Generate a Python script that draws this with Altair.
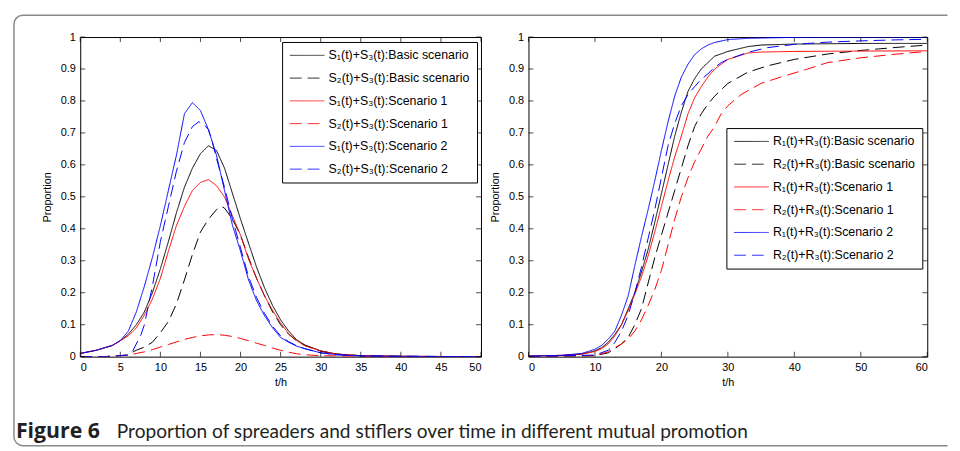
import altair as alt
import pandas as pd

# ---------------- labels / styles ----------------
L_LABELS = ["S₁(t)+S₃(t):Basic scenario", "S₂(t)+S₃(t):Basic scenario",
            "S₁(t)+S₃(t):Scenario 1", "S₂(t)+S₃(t):Scenario 1",
            "S₁(t)+S₃(t):Scenario 2", "S₂(t)+S₃(t):Scenario 2"]
R_LABELS = ["R₁(t)+R₃(t):Basic scenario", "R₂(t)+R₃(t):Basic scenario",
            "R₁(t)+R₃(t):Scenario 1", "R₂(t)+R₃(t):Scenario 1",
            "R₁(t)+R₃(t):Scenario 2", "R₂(t)+R₃(t):Scenario 2"]
COLORS = ["#000000", "#000000", "#ff0000", "#ff0000", "#0000ff", "#0000ff"]
DASHES = [[1, 0], [12, 6], [1, 0], [12, 6], [1, 0], [12, 6]]

L_XTICKS = [0, 5, 10, 15, 20, 25, 30, 35, 40, 45, 50]
R_XTICKS = [0, 10, 20, 30, 40, 50, 60]
YTICKS = [0, 0.1, 0.2, 0.3, 0.4, 0.5, 0.6, 0.7, 0.8, 0.9, 1]

CAPTION_BOLD = ["Figure 6"]
CAPTION_TEXT = ["Proportion of spreaders and stiflers over time in different mutual promotion"]

# ---------------- left panel data (spreaders) ----------------
ls_t = [0, 2, 4, 5, 6, 7, 8, 9, 10, 11, 12, 13, 14, 15, 16, 17, 18, 19, 20, 21, 22, 23, 24, 25, 26, 27, 28, 30, 32, 35, 40, 50]
l_black_solid = [0.01, 0.02, 0.035, 0.05, 0.07, 0.10, 0.14, 0.20, 0.275, 0.36, 0.45, 0.53, 0.59, 0.635, 0.66, 0.645, 0.59, 0.51, 0.43, 0.355, 0.28, 0.215, 0.16, 0.115, 0.08, 0.053, 0.037, 0.018, 0.008, 0.003, 0.001, 0.0]
l_red_solid = [0.01, 0.02, 0.035, 0.05, 0.065, 0.09, 0.13, 0.18, 0.245, 0.33, 0.41, 0.47, 0.52, 0.545, 0.554, 0.535, 0.50, 0.44, 0.38, 0.305, 0.245, 0.19, 0.145, 0.105, 0.072, 0.05, 0.035, 0.018, 0.008, 0.003, 0.001, 0.0]
l_blue_solid = [0.01, 0.02, 0.035, 0.05, 0.08, 0.14, 0.22, 0.31, 0.41, 0.52, 0.63, 0.76, 0.795, 0.77, 0.71, 0.63, 0.52, 0.41, 0.33, 0.24, 0.175, 0.128, 0.09, 0.06, 0.045, 0.033, 0.025, 0.012, 0.006, 0.002, 0.001, 0.0]

lbd_t = [0, 3, 6, 6.6, 7, 8, 9, 10, 11, 12, 13, 14, 15, 16, 17, 17.6, 18, 19, 20, 21, 22, 23, 24, 25, 26, 27, 28, 30, 32, 35, 40, 50]
l_black_dash = [0, 0, 0.005, 0.015, 0.02, 0.03, 0.045, 0.075, 0.11, 0.165, 0.24, 0.32, 0.39, 0.43, 0.46, 0.47, 0.465, 0.43, 0.38, 0.31, 0.245, 0.19, 0.14, 0.10, 0.07, 0.05, 0.035, 0.017, 0.008, 0.003, 0.001, 0.0]

lrd_t = [0, 3, 6, 7, 8, 9, 10, 11, 12, 13, 14, 15, 16, 17, 18, 19, 20, 21, 22, 23, 24, 25, 26, 27, 28, 30, 35, 40, 50]
l_red_dash = [0, 0, 0.005, 0.01, 0.015, 0.022, 0.03, 0.038, 0.046, 0.054, 0.06, 0.065, 0.068, 0.069, 0.067, 0.063, 0.057, 0.05, 0.042, 0.035, 0.027, 0.02, 0.014, 0.009, 0.006, 0.003, 0.001, 0, 0]

lbld_t = [0, 3, 6, 6.6, 7, 7.6, 8, 9, 10, 11, 12, 13, 14, 14.8, 15.5, 16, 16.5, 17, 18, 19, 20, 21, 22, 23, 24, 25, 26, 27, 28, 30, 32, 35, 40, 50]
l_blue_dash = [0, 0, 0.005, 0.02, 0.04, 0.07, 0.10, 0.22, 0.36, 0.47, 0.58, 0.67, 0.72, 0.735, 0.725, 0.71, 0.67, 0.62, 0.53, 0.43, 0.34, 0.25, 0.185, 0.135, 0.095, 0.065, 0.047, 0.034, 0.025, 0.012, 0.006, 0.002, 0.001, 0.0]

# ---------------- right panel data (stiflers) ----------------
rs_t = [0, 5, 8, 10, 11, 12, 13, 14, 15, 16, 17, 18, 19, 20, 21, 22, 23, 24, 25, 26, 27, 28, 30, 33, 35, 40, 50, 60]
r_black_solid = [0.002, 0.004, 0.008, 0.018, 0.028, 0.045, 0.07, 0.10, 0.15, 0.20, 0.265, 0.335, 0.42, 0.51, 0.60, 0.69, 0.765, 0.83, 0.87, 0.90, 0.92, 0.94, 0.955, 0.97, 0.975, 0.978, 0.98, 0.98]
r_red_solid = [0.002, 0.004, 0.008, 0.016, 0.025, 0.04, 0.065, 0.10, 0.145, 0.195, 0.25, 0.315, 0.39, 0.47, 0.55, 0.625, 0.69, 0.76, 0.81, 0.845, 0.875, 0.90, 0.93, 0.95, 0.953, 0.955, 0.956, 0.957]
r_blue_solid = [0.002, 0.004, 0.01, 0.023, 0.035, 0.055, 0.08, 0.13, 0.19, 0.285, 0.375, 0.46, 0.55, 0.645, 0.735, 0.815, 0.875, 0.915, 0.945, 0.963, 0.975, 0.983, 0.992, 0.996, 0.997, 0.999, 1.0, 1.0]

rbd_t = [0, 10, 12, 12.6, 13, 14, 15, 16, 17, 18, 19, 20, 21, 22, 23, 24, 25, 26, 27, 28, 29, 30, 33, 36, 40, 45, 50, 55, 60]
r_black_dash = [0, 0.003, 0.012, 0.02, 0.025, 0.04, 0.06, 0.10, 0.15, 0.23, 0.31, 0.38, 0.45, 0.52, 0.59, 0.66, 0.72, 0.76, 0.79, 0.815, 0.835, 0.855, 0.89, 0.91, 0.93, 0.947, 0.958, 0.967, 0.975]

rrd_t = [0, 10, 12, 13, 14, 15, 16, 17, 18, 19, 20, 21, 22, 23, 24, 25, 26, 27, 28, 29, 30, 32, 35, 38, 42, 45, 50, 55, 60]
r_red_dash = [0, 0.003, 0.015, 0.028, 0.04, 0.055, 0.08, 0.115, 0.16, 0.21, 0.27, 0.35, 0.43, 0.50, 0.56, 0.61, 0.65, 0.69, 0.72, 0.76, 0.785, 0.82, 0.855, 0.875, 0.90, 0.92, 0.935, 0.946, 0.955]

rbld_t = [0, 10, 12, 12.5, 13, 14, 15, 16, 17, 18, 19, 20, 21, 22, 23, 24, 25, 26, 27, 28, 29, 30, 33, 36, 40, 45, 50, 55, 60]
r_blue_dash = [0, 0.005, 0.02, 0.03, 0.045, 0.08, 0.13, 0.20, 0.28, 0.37, 0.46, 0.56, 0.66, 0.73, 0.785, 0.82, 0.845, 0.868, 0.885, 0.905, 0.92, 0.93, 0.952, 0.967, 0.977, 0.984, 0.988, 0.991, 0.993]


def long_df(pairs, labels):
    rows = []
    for (ts, vs), lab in zip(pairs, labels):
        for t, v in zip(ts, vs):
            rows.append({"t": t, "v": v, "label": lab})
    return pd.DataFrame(rows)


left_df = long_df([(ls_t, l_black_solid), (lbd_t, l_black_dash), (ls_t, l_red_solid),
                   (lrd_t, l_red_dash), (ls_t, l_blue_solid), (lbld_t, l_blue_dash)], L_LABELS)
right_df = long_df([(rs_t, r_black_solid), (rbd_t, r_black_dash), (rs_t, r_red_solid),
                    (rrd_t, r_red_dash), (rs_t, r_blue_solid), (rbld_t, r_blue_dash)], R_LABELS)

W_L, W_R, H = 405, 403, 323
FONT = "Liberation Sans"
# legend line sample: a horizontal path to the right of the symbol centre
LEG_SYMBOL = "M-1,0L5.14,0"
FRAME_GREY = "#8a8a8a"


def panel(df, labels, xmax, xticks, width, lx, ly):
    leg = alt.Legend(orient="none", legendX=lx, legendY=ly, strokeColor="black",
                     fillColor="white", padding=7, symbolType=LEG_SYMBOL, symbolSize=130,
                     symbolStrokeWidth=1, symbolOpacity=0.8, labelFont=FONT, labelFontSize=12.5,
                     labelColor="black", labelOffset=27, rowPadding=10, labelLimit=300)
    xs = alt.Scale(domain=[0, xmax], nice=False)
    ys = alt.Scale(domain=[0, 1], nice=False)
    xa = alt.Axis(values=xticks, title="t/h", ticks=False, domain=False, grid=False,
                  labelPadding=5, titlePadding=4, format="d")
    ya = alt.Axis(values=YTICKS, title="Proportion", ticks=False, domain=False, grid=False,
                  labelPadding=5, titlePadding=8, format="~g")
    lines = alt.Chart(df).mark_line(strokeWidth=1, clip=True).encode(
        x=alt.X("t:Q", scale=xs, axis=xa),
        y=alt.Y("v:Q", scale=ys, axis=ya),
        color=alt.Color("label:N", scale=alt.Scale(domain=labels, range=COLORS), legend=leg, title=None),
        strokeDash=alt.StrokeDash("label:N", scale=alt.Scale(domain=labels, range=DASHES), legend=leg, title=None),
    )
    xt = pd.DataFrame({"t": xticks})
    yt = pd.DataFrame({"v": YTICKS})
    tb = alt.Chart(xt).mark_tick(orient="vertical", size=5, thickness=1, color="black", yOffset=-2.5).encode(
        x=alt.X("t:Q", axis=xa), y=alt.value(H))
    tt = alt.Chart(xt).mark_tick(orient="vertical", size=5, thickness=1, color="black", yOffset=2.5).encode(
        x=alt.X("t:Q", axis=xa), y=alt.value(0))
    tl = alt.Chart(yt).mark_tick(orient="horizontal", size=5, thickness=1, color="black", xOffset=2.5).encode(
        y=alt.Y("v:Q", axis=ya), x=alt.value(0))
    tr = alt.Chart(yt).mark_tick(orient="horizontal", size=5, thickness=1, color="black", xOffset=-2.5).encode(
        y=alt.Y("v:Q", axis=ya), x=alt.value(width))
    return [lines, tb, tt, tl, tr]


# figure border (decoration, px from the left plot's origin): rounded on the left,
# its right edge hidden under a white strip so the border runs off the page
one = pd.DataFrame({"a": [0]})
frame = alt.Chart(one).mark_rect(filled=False, stroke=FRAME_GREY, strokeWidth=1.5,
                                 cornerRadiusTopLeft=9, cornerRadiusBottomLeft=9).encode(
    x=alt.value(-67), x2=alt.value(878), y=alt.value(-22), y2=alt.value(413))
cover = alt.Chart(one).mark_rect(color="white", strokeWidth=0).encode(
    x=alt.value(876.5), x2=alt.value(880), y=alt.value(-24), y2=alt.value(415))

cap1 = alt.Chart(pd.DataFrame({"s": CAPTION_BOLD})).mark_text(
    align="left", baseline="alphabetic", font="Open Sans", fontSize=21.5, fontWeight="bold", color="#231f20").encode(
    text="s:N", x=alt.value(-65), y=alt.value(405))
cap2 = alt.Chart(pd.DataFrame({"s": CAPTION_TEXT})).mark_text(
    align="left", baseline="alphabetic", font="Lato", fontSize=19.3, color="#231f20").encode(
    text="s:N", x=alt.value(37), y=alt.value(405))

left = alt.layer(*panel(left_df, L_LABELS, 50, L_XTICKS, W_L, 204, 5),
                 frame, cover, cap1, cap2).properties(width=W_L, height=H)
right = alt.layer(*panel(right_df, R_LABELS, 60, R_XTICKS, W_R, 200, 92)).properties(
    width=W_R, height=H)

chart = alt.hconcat(left, right, spacing=48, bounds="flush").resolve_scale(
    color="independent", strokeDash="independent"
).properties(
    padding={"left": 4, "top": 2, "right": 0, "bottom": 0}
).configure_view(stroke="black", strokeWidth=1).configure_axis(
    labelFont=FONT, labelFontSize=11, labelColor="black", titleFont=FONT, titleFontSize=11,
    titleFontWeight="normal", titleColor="black"
)

chart.save("out.html", embed_options={"renderer": "svg", "actions": False})
